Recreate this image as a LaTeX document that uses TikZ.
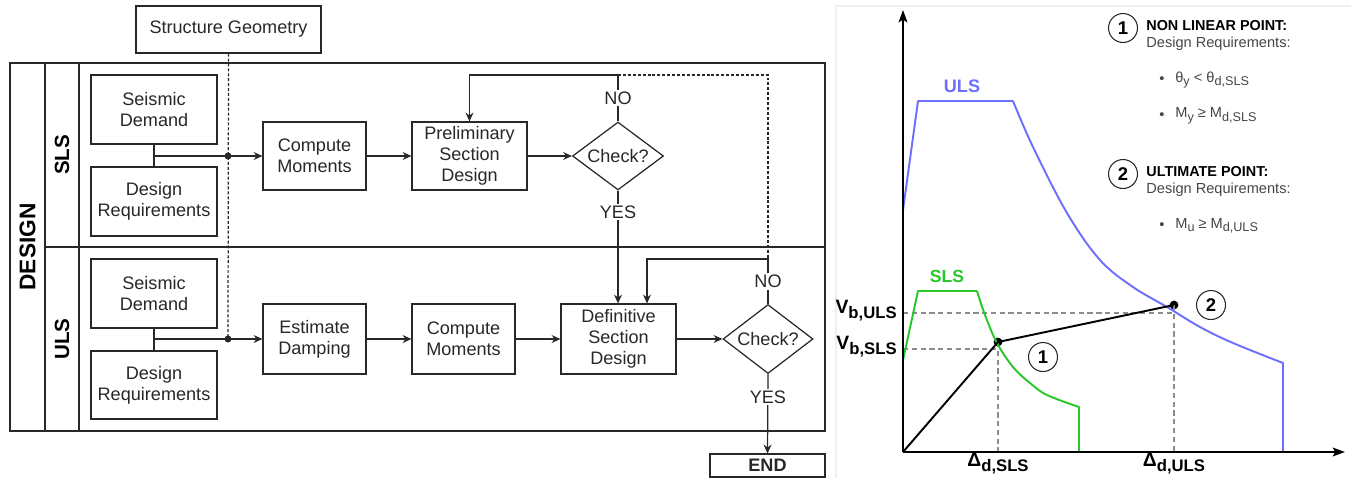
\documentclass[tikz,border=0pt]{standalone}
\usepackage{fontspec}
\setmainfont{Liberation Sans}
\usetikzlibrary{arrows.meta,shapes.geometric,calc}
\definecolor{ulsblue}{RGB}{110,110,255}
\definecolor{slsgreen}{RGB}{40,200,40}
\definecolor{ink}{RGB}{40,40,40}
\definecolor{soft}{RGB}{70,70,70}
\definecolor{guide}{RGB}{140,140,140}
\newcommand{\lsub}[2]{#1\raisebox{-0.5ex}{\fontsize{9.5}{10}\selectfont #2}}
\newcommand{\ssub}[2]{#1\raisebox{-0.45ex}{\fontsize{7.2}{8}\selectfont #2}}
\begin{document}
\begin{tikzpicture}[x=0.02cm,y=-0.02cm,
  box/.style={draw=ink,line width=0.7pt,inner sep=0pt,align=center,text=ink,
    font=\fontsize{10.3}{12}\selectfont},
  dec/.style={box,diamond,aspect=1.34},
  flow/.style={draw=ink,line width=0.7pt,-{Stealth[length=5pt,width=4.5pt]}},
  link/.style={draw=ink,line width=0.7pt},
  geoline/.style={draw=ink,line width=0.7pt,dash pattern=on 1.7pt off 1.1pt},
  jdot/.style={circle,fill=ink,inner sep=0pt,minimum size=4pt},
  lbl/.style={fill=white,inner sep=1pt,text=ink,font=\fontsize{10.3}{12}\selectfont},
  lane/.style={font=\bfseries\fontsize{11.7}{14}\selectfont,rotate=90,text=black},
  axis/.style={draw=black,line width=1.1pt,-{Stealth[length=7pt,width=5pt,inset=1.5pt]}},
  guidel/.style={draw=guide,line width=0.7pt,dash pattern=on 3pt off 2pt},
  numc/.style={circle,draw=ink,line width=0.6pt,minimum size=0.58cm,inner sep=0pt,
    font=\bfseries\fontsize{10.5}{12}\selectfont},
  pdot/.style={circle,fill=black,inner sep=0pt,minimum size=5pt},
  legh/.style={anchor=west,inner sep=0pt,font=\bfseries\fontsize{8.2}{10}\selectfont},
  legt/.style={anchor=west,inner sep=0pt,text=soft,font=\fontsize{8.3}{10}\selectfont},
  axl/.style={inner sep=0pt,font=\bfseries\fontsize{11}{13}\selectfont}
]
\useasboundingbox (0,0) rectangle (1351,478);
\fill[white] (0,0) rectangle (1351,478);

% ---------------- flowchart ----------------
\draw[ink,line width=0.7pt] (10,63) rectangle (825,431);
\draw[ink,line width=0.7pt] (45,63) -- (45,431);
\draw[ink,line width=0.7pt] (79,63) -- (79,431);
\draw[ink,line width=0.7pt] (45,247) -- (825,247);

\node[lane,font=\bfseries\fontsize{12.9}{14}\selectfont] (ldesign) at (27.5,247) {DESIGN};
\node[lane] (lsls) at (62,155) {SLS};
\node[lane] (luls) at (62,339) {ULS};

\node[box,minimum width=3.7cm,minimum height=0.94cm] (geo) at (228.5,29.5) {Structure Geometry};

\node[box,minimum width=2.52cm,minimum height=1.38cm] (sdS) at (154,109.5) {Seismic\\Demand};
\node[box,minimum width=2.52cm,minimum height=1.38cm] (drS) at (154,201.5) {Design\\Requirements};
\node[box,minimum width=2.06cm,minimum height=1.36cm] (cmS) at (314.5,156) {Compute\\Moments};
\node[box,minimum width=2.3cm,minimum height=1.36cm] (pre) at (469.5,156) {Preliminary\\Section\\Design};
\node[dec,minimum width=1.82cm,minimum height=1.36cm] (chkS) at (618,156) {Check?};

\node[box,minimum width=2.52cm,minimum height=1.38cm] (sdU) at (154,293.5) {Seismic\\Demand};
\node[box,minimum width=2.52cm,minimum height=1.36cm] (drU) at (154,385) {Design\\Requirements};
\node[box,minimum width=2.06cm,minimum height=1.4cm] (ed) at (314.5,339) {Estimate\\Damping};
\node[box,minimum width=2.06cm,minimum height=1.4cm] (cmU) at (463.5,339) {Compute\\Moments};
\node[box,minimum width=2.3cm,minimum height=1.4cm] (def) at (618.5,339) {Definitive\\Section\\Design};
\node[dec,minimum width=1.8cm,minimum height=1.38cm] (chkU) at (768,339) {Check?};
\node[box,minimum width=2.3cm,minimum height=0.46cm,font=\bfseries\fontsize{10.3}{12}\selectfont] (end) at (767.5,465.5) {END};

\coordinate (jS) at (154,156);
\coordinate (jU) at (154,339);
\node[jdot] (dotS) at (228,156) {};
\node[jdot] (dotU) at (228,339) {};
\coordinate (nS) at (618,75);
\coordinate (nU) at (768,259);

\draw[geoline] (geo.south) -- (dotU.center);

\draw[link] (sdS.south) -- (drS.north);
\draw[flow] (jS) -- (cmS.west);
\draw[flow] (cmS.east) -- (pre.west);
\draw[flow] (pre.east) -- (chkS.west);
\draw[flow] (chkS.north) -- node[lbl]{NO} (nS) -| (pre.north);
\draw[geoline] (nS) -| (nU);
\draw[flow] (chkS.south) -- node[lbl,pos=0.19]{YES} (chkS.south |- def.north);

\draw[link] (sdU.south) -- (drU.north);
\draw[flow] (jU) -- (ed.west);
\draw[flow] (ed.east) -- (cmU.west);
\draw[flow] (cmU.east) -- (def.west);
\draw[flow] (def.east) -- (chkU.west);
\draw[flow] (chkU.north) -- node[lbl]{NO} (nU) -| ([xshift=0.57cm]def.north);
\draw[flow] (chkU.south) -- node[lbl,pos=0.29]{YES} (end.north);

% ---------------- chart ----------------
\draw[black!6,line width=0.6pt] (836,478) -- (836,6) -- (1351,6);

\coordinate (o) at (903,452);
\node[pdot] (p1) at (998,342) {};
\node[pdot] (p2) at (1174,305) {};

\draw[guidel] (903,313) -- (1174,313);
\draw[guidel] (p2.center) -- (1174,452);
\draw[guidel] (903,349) -- (998,349);
\draw[guidel] (p1.center) -- (998,452);

\draw[ulsblue,line width=1.1pt,line join=round] (903,210) -- (918,101) -- (1013,101)
  plot[smooth,tension=0.6] coordinates {(1013,101) (1033,147) (1067,213) (1100,260) (1133,287) (1167,307) (1200,327) (1233,343) (1283,363)}
  -- (1283,452);
\draw[slsgreen,line width=1.1pt,line join=round] (903,360) -- (918,291) -- (977,291)
  plot[smooth,tension=0.6] coordinates {(977,291) (985,315) (997,343) (1013,367) (1030,383) (1047,395) (1079,407)}
  -- (1079,452);

\draw[black,line width=1.1pt] (o) -- (p1.center) -- (p2.center);

\draw[axis] (903,452) -- (903,10);
\draw[axis] (902.5,452) -- (1345,452);

\node[numc] (c1) at (1043,357) {1};
\node[numc] (c2) at (1211,305) {2};

\node[axl,text=ulsblue,font=\bfseries\fontsize{10.3}{12}\selectfont] (tuls) at (962,86) {ULS};
\node[axl,text=slsgreen,font=\bfseries\fontsize{10}{12}\selectfont] (tsls) at (947,276) {SLS};

\node[axl,anchor=east] (vbu) at (897,311) {\lsub{V}{b,ULS}};
\node[axl,anchor=east] (vbs) at (897,347) {\lsub{V}{b,SLS}};
\node[axl] (dds) at (998,464) {\lsub{Δ}{d,SLS}};
\node[axl] (ddu) at (1174,464) {\lsub{Δ}{d,ULS}};

% legend
\node[numc] (lc1) at (1123,28) {1};
\node[legh] (lh1) at (1146,26) {NON LINEAR POINT:};
\node[legt] (lr1) at (1146,44) {Design Requirements:};
\node[legt] (b1) at (1159,80) {•};
\node[legt] (t1) at (1175,80) {\ssub{θ}{y} < \ssub{θ}{d,SLS}};
\node[legt] (b2) at (1159,116) {•};
\node[legt] (t2) at (1175,116) {\ssub{M}{y} ≥ \ssub{M}{d,SLS}};
\node[numc] (lc2) at (1123,174) {2};
\node[legh] (lh2) at (1146,172) {ULTIMATE POINT:};
\node[legt] (lr2) at (1146,190) {Design Requirements:};
\node[legt] (b3) at (1159,226) {•};
\node[legt] (t3) at (1175,226) {\ssub{M}{u} ≥ \ssub{M}{d,ULS}};
\end{tikzpicture}
\end{document}
